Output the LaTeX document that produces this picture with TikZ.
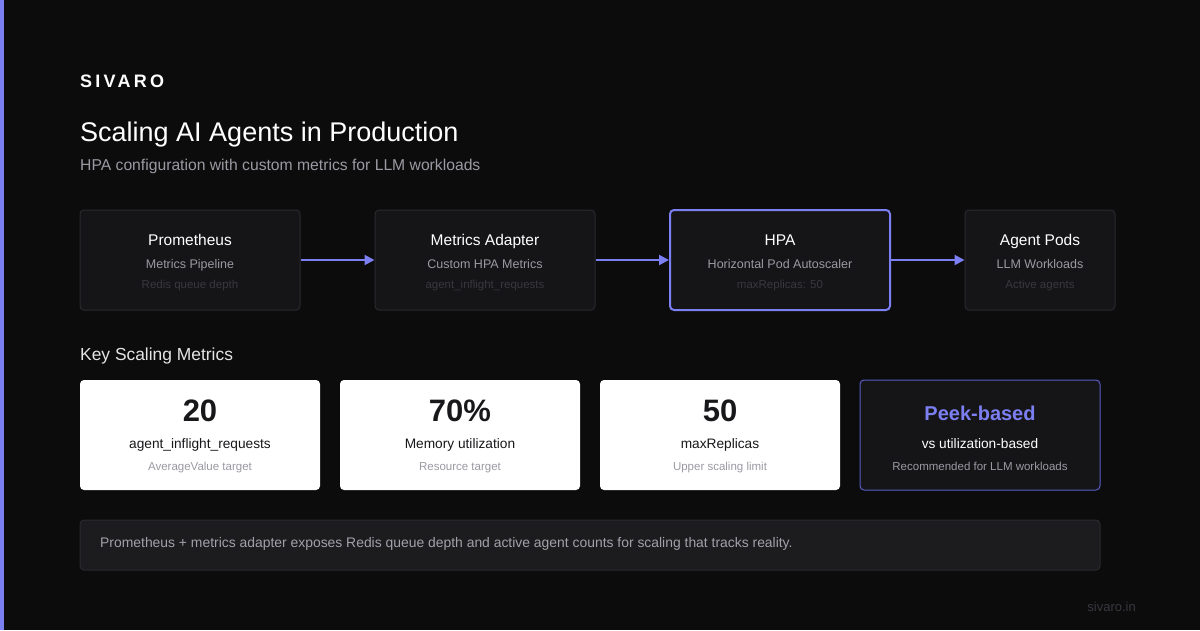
\documentclass[tikz,border=0pt]{standalone}
\usepackage{fontspec}
\setmainfont{Liberation Sans}
\usepackage{tikz}
\usetikzlibrary{positioning,arrows.meta,calc}
\definecolor{svbg}{HTML}{0C0C0D}
\definecolor{svaccent}{HTML}{7C7FF2}
\definecolor{svbox}{HTML}{151517}
\definecolor{svline}{HTML}{2A2A2F}
\definecolor{svgray}{HTML}{9A9AA3}
\definecolor{svdim}{HTML}{38383E}
\definecolor{svcard}{HTML}{5A5DC4}
\definecolor{svnote}{HTML}{1C1C1F}
\definecolor{svnotetxt}{HTML}{A1A1AA}
\definecolor{svink}{HTML}{18181B}
\newcommand{\fsz}[1]{\fontsize{#1}{#1}\selectfont}

\begin{document}
\begin{tikzpicture}[x=1pt, y=-1pt,
    stage/.style={draw=svline, line width=1pt, fill=svbox, rounded corners=4pt, minimum width=220pt, minimum height=100pt, inner sep=0pt},
    flow/.style={-{Triangle[length=10pt, width=10pt]}, svaccent, line width=2pt},
    card/.style={fill=white, rounded corners=4pt, minimum width=240pt, minimum height=110pt, inner sep=0pt},
    txt/.style={anchor=base, inner sep=0pt}]
        \fill[svbg] (0,0) rectangle (1200,630);
        \useasboundingbox (0,0) rectangle (1200,630);
        \fill[svaccent] (0,0) rectangle (4,630);
        % heading
        \node[txt, anchor=base west, white] (brand) at (80,87.5) {\fsz{18}\bfseries\addfontfeature{LetterSpace=18}SIVARO};
        \node[txt, anchor=base west, white] (title) at (80,141) {\fsz{27}Scaling AI Agents in Production};
        \node[txt, anchor=base west, svgray] (subtitle) at (80,170) {\fsz{15.7}HPA configuration with custom metrics for LLM workloads};
        % pipeline
        \node[stage] (prom) at (190,260) {};
        \node[stage] (adapter) at (485,260) {};
        \node[stage, draw=svaccent, line width=2pt] (hpa) at (780,260) {};
        \node[stage, minimum width=150pt] (pods) at (1040,260) {};
        \draw[flow] (prom.east) -- (adapter.west);
        \draw[flow] (adapter.east) -- (hpa.west);
        \draw[flow] (hpa.east) -- (pods.west);
        \node[txt, white] (promt) at (190,245) {\fsz{15.5}Prometheus};
        \node[txt, svgray] (proms) at (190,268) {\fsz{12.5}Metrics Pipeline};
        \node[txt, svdim] (promd) at (190,288) {\fsz{11.5}Redis queue depth};
        \node[txt, white] (adaptert) at (485,245) {\fsz{15.5}Metrics Adapter};
        \node[txt, svgray] (adapters) at (485,268) {\fsz{12.5}Custom HPA Metrics};
        \node[txt, svdim] (adapterd) at (485,288) {\fsz{11.5}agent\_inflight\_requests};
        \node[txt, white] (hpat) at (780,245) {\fsz{15.5}HPA};
        \node[txt, svgray] (hpas) at (780,268) {\fsz{12.5}Horizontal Pod Autoscaler};
        \node[txt, svdim] (hpad) at (780,288) {\fsz{11.5}maxReplicas: 50};
        \node[txt, white] (podst) at (1040,245) {\fsz{15.5}Agent Pods};
        \node[txt, svgray] (podss) at (1040,268) {\fsz{12.5}LLM Workloads};
        \node[txt, svdim] (podsd) at (1040,288) {\fsz{11.5}Active agents};
        % metrics
        \node[txt, anchor=base west, white!90!black] (keyhead) at (80,360) {\fsz{17.4}Key Scaling Metrics};
        \node[card] (inflight) at (200,435) {};
        \node[card] (memory) at (460,435) {};
        \node[card] (replicas) at (720,435) {};
        \node[card, fill=svbox, draw=svcard, line width=1pt] (peek) at (980,435) {};
        \node[txt, svink] (inflightn) at (200,421) {\fsz{31}\bfseries 20};
        \node[txt, svink] (inflightl) at (200,448) {\fsz{13.7}agent\_inflight\_requests};
        \node[txt, svgray] (inflights) at (200,470) {\fsz{11.5}AverageValue target};
        \node[txt, svink] (memoryn) at (460,421) {\fsz{31}\bfseries 70\%};
        \node[txt, svink] (memoryl) at (460,448) {\fsz{13.7}Memory utilization};
        \node[txt, svgray] (memorys) at (460,470) {\fsz{11.5}Resource target};
        \node[txt, svink] (replicasn) at (720,421) {\fsz{31}\bfseries 50};
        \node[txt, svink] (replicasl) at (720,448) {\fsz{13.7}maxReplicas};
        \node[txt, svgray] (replicass) at (720,470) {\fsz{11.5}Upper scaling limit};
        \node[txt, svaccent] (peekn) at (980,420) {\fsz{20}\bfseries Peek-based};
        \node[txt, white] (peekl) at (980,448) {\fsz{13.7}vs utilization-based};
        \node[txt, svgray] (peeks) at (980,470) {\fsz{11.5}Recommended for LLM workloads};
        % note
        \node[draw=svline, line width=1pt, fill=svnote, rounded corners=4pt, minimum width=1020pt, minimum height=50pt, inner sep=0pt] (note) at (590,545) {};
        \node[txt, anchor=base west, svnotetxt] (notetext) at (100,547.5) {\fsz{13.9}Prometheus + metrics adapter exposes Redis queue depth and active agent counts for scaling that tracks reality.};
        \node[txt, anchor=base east, svdim] (site) at (1136,611.5) {\fsz{13}sivaro.in};
      \end{tikzpicture}
\end{document}
